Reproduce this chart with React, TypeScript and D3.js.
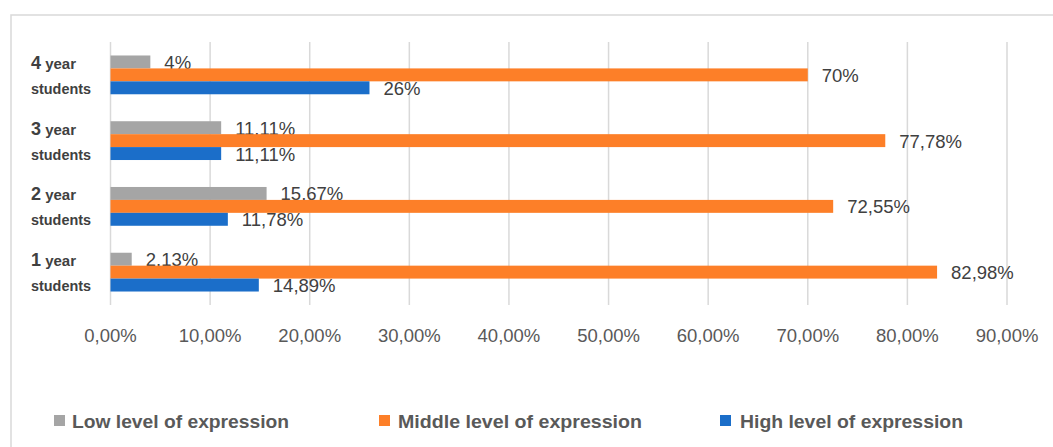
import React from "react";
import * as d3 from "d3";

const categories = ["4", "3", "2", "1"];
const lowValues = [4, 11.11, 15.67, 2.13];
const middleValues = [70, 77.78, 72.55, 82.98];
const highValues = [26, 11.11, 11.78, 14.89];
const seriesNames = ["Low level of expression", "Middle level of expression", "High level of expression"];
const seriesColors = ["#a5a5a5", "#fd7f28", "#1b6ec9"];
const tickValues = [0, 10, 20, 30, 40, 50, 60, 70, 80, 90];

const W = 1053;
const H = 447;

function fmtValue(v: number) {
  return Number.isInteger(v) ? `${v}%` : v.toFixed(2).replace(".", ",") + "%";
}
function fmtTick(v: number) {
  return v.toFixed(2).replace(".", ",") + "%";
}

export default function App() {
  const x = d3.scaleLinear().domain([0, 90]).range([110.5, 1007]);
  const y = d3.scaleBand<string>().domain(categories).range([42, 305]).paddingInner(0.41).paddingOuter(0.205);
  const sy = d3.scaleBand<string>().domain(seriesNames).range([0, y.bandwidth()]).padding(0);
  const allSeries = [lowValues, middleValues, highValues];

  const legendItems = [
    { sq: 54, tx: 72, w: 217 },
    { sq: 379, tx: 398, w: 244 },
    { sq: 720, tx: 740, w: 223 },
  ];

  const labelFont = "'Liberation Sans', Arial, sans-serif";
  return (
    <svg width={W} height={H} style={{ position: "absolute", left: 0, top: 0, background: "#fff" }}>
      <rect x={11} y={15} width={1200} height={600} fill="#fff" stroke="#d9d9d9" strokeWidth={1.5} />
      {tickValues.map((t) => (
        <g key={t}>
          <line x1={x(t)} x2={x(t)} y1={42} y2={305} stroke="#d9d9d9" strokeWidth={1.5} />
          <text x={x(t)} y={342} textAnchor="middle" fontFamily={labelFont} fontSize={18.5} fill="#595959">
            {fmtTick(t)}
          </text>
        </g>
      ))}
      {categories.map((c, i) => {
        const gy = y(c)!;
        const cy = gy + y.bandwidth() / 2;
        return (
          <g key={c}>
            {allSeries.map((vals, s) => {
              const by = gy + sy(seriesNames[s])!;
              const bh = sy.bandwidth();
              const v = vals[i];
              return (
                <g key={s}>
                  <rect x={x(0)} y={by} width={x(v) - x(0)} height={bh} fill={seriesColors[s]} />
                  <text
                    x={x(v) + 14}
                    y={by + bh / 2 + 7}
                    fontFamily={labelFont}
                    fontSize={18.5}
                    fill="#404040"
                  >
                    {fmtValue(v)}
                  </text>
                </g>
              );
            })}
            <text x={31} y={cy - 6} fontFamily={labelFont} fontWeight="bold" fill="#404040">
              <tspan fontSize={18}>{c}</tspan>
              <tspan fontSize={15}> year</tspan>
            </text>
            <text x={31} y={cy + 19} fontFamily={labelFont} fontWeight="bold" fontSize={15} fill="#404040" textLength={60} lengthAdjust="spacingAndGlyphs">
              students
            </text>
          </g>
        );
      })}
      {seriesNames.map((n, s) => (
        <g key={n}>
          <rect x={legendItems[s].sq} y={415} width={11} height={11} fill={seriesColors[s]} />
          <text
            x={legendItems[s].tx}
            y={428}
            fontFamily={labelFont}
            fontWeight="bold"
            fontSize={19}
            fill="#595959"
            textLength={legendItems[s].w}
            lengthAdjust="spacingAndGlyphs"
          >
            {n}
          </text>
        </g>
      ))}
    </svg>
  );
}
